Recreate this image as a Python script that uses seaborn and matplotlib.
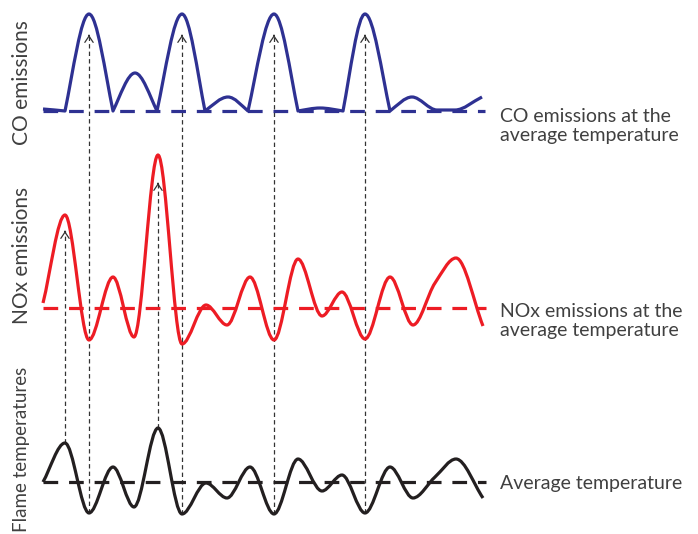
import numpy as np
import pandas as pd
import matplotlib
matplotlib.use("Agg")
import matplotlib.pyplot as plt
from matplotlib.path import Path
from matplotlib.patches import PathPatch
import seaborn as sns

# ---------------- data (read from the reference schematic) ----------------
# shared time axis for NOx and flame temperature (extrema positions)
t_nox_flame = [43, 65, 89, 113, 134, 158, 182, 206, 227, 250, 274, 298, 322, 342, 365, 390, 413, 435, 456, 483]
flame_temp = [0, 39, -31, 15, -25, 54, -32, -1, -16, 15, -32, 23, -9, 7, -31, 15, -16, 5, 23, -16]
nox_emis = [5, 93, -32, 31, -29, 153, -36, 3, -17, 31, -32, 49, -8, 16, -31, 31, -17, 25, 50, -18]

t_co = [43, 65, 89, 113, 135, 157, 182, 205, 228, 248, 274, 298, 320, 343, 365, 390, 412, 437, 455, 482]
co_emis = [2, 0, 97, 0, 38, 0, 97, 0, 14, 0, 97, 0, 3, 0, 97, 0, 14, 1, 1, 14]

# arrows: (flame index, target series, target index)
guides = [(1, "nox", 1), (2, "co", 2), (5, "nox", 5), (6, "co", 6), (10, "co", 10), (14, "co", 14)]

labels_left = ["CO emissions", "NOx emissions", "Flame temperatures"]
labels_right = ["CO emissions at the\naverage temperature",
                "NOx emissions at the\naverage temperature",
                "Average temperature"]

# ---------------- layout / style ----------------
W, H = 698, 534
base = {"co": 423, "nox": 226, "flame": 52}
colors = {"co": "#2e3192", "nox": "#ed1c24", "flame": "#231f20"}
guide_gap = [16, 21, 28, 21, 21, 21]
text_color = "#404040"

sns.set_theme(style="white")
plt.rcParams["font.family"] = ["Lato", "DejaVu Sans"]

fig = plt.figure(figsize=(W / 100, H / 100), dpi=100)
ax = fig.add_axes([0, 0, 1, 1])
ax.set_xlim(0, W)
ax.set_ylim(0, H)
ax.axis("off")


def hermite_path(xs, ys, cusps=(), k=1.2):
    xs = np.asarray(xs, float)
    ys = np.asarray(ys, float)
    n = len(xs)
    h = np.diff(xs)
    d = np.diff(ys) / h
    m = np.zeros(n)
    m[0], m[-1] = d[0], d[-1]
    for i in range(1, n - 1):
        if d[i - 1] * d[i] > 0:
            w1 = 2 * h[i] + h[i - 1]
            w2 = h[i] + 2 * h[i - 1]
            m[i] = (w1 + w2) / (w1 / d[i - 1] + w2 / d[i])
    ml, mr = m.copy(), m.copy()
    for i in cusps:
        ml[i] = k * d[i - 1]
        mr[i] = k * d[i]
    verts = [(xs[0], ys[0])]
    codes = [Path.MOVETO]
    for i in range(n - 1):
        hh = h[i]
        verts += [(xs[i] + hh / 3, ys[i] + mr[i] * hh / 3),
                  (xs[i + 1] - hh / 3, ys[i + 1] - ml[i + 1] * hh / 3),
                  (xs[i + 1], ys[i + 1])]
        codes += [Path.CURVE4] * 3
    return Path(verts, codes)


series = {
    "co": (t_co, co_emis),
    "nox": (t_nox_flame, nox_emis),
    "flame": (t_nox_flame, flame_temp),
}

# vertical dashed guides
rows = []
for gi, (fi, tgt, ti) in enumerate(guides):
    x = t_nox_flame[fi]
    y0 = base["flame"] + flame_temp[fi]
    tx, tv = series[tgt]
    y1 = base[tgt] + tv[ti] - guide_gap[gi]
    rows.append({"g": gi, "x": x, "y": y0})
    rows.append({"g": gi, "x": x, "y": y1})
    ax.annotate("", xy=(x, y1), xytext=(x, y1 - 0.5),
                arrowprops=dict(arrowstyle="->,head_length=0.45,head_width=0.3",
                                color="#333333", lw=0.9, shrinkA=0, shrinkB=0,
                                mutation_scale=10), zorder=2)
gdf = pd.DataFrame(rows)
sns.lineplot(data=gdf, x="x", y="y", units="g", estimator=None, sort=False,
             color="#333333", linewidth=0.9, linestyle=(0, (3.5, 2.5)), ax=ax, zorder=1)

# dashed average baselines
for key, (xs, ys) in series.items():
    bdf = pd.DataFrame({"x": [xs[0], xs[-1] + 3], "y": [base[key], base[key]]})
    sns.lineplot(data=bdf, x="x", y="y", color=colors[key], linewidth=2.3,
                 linestyle=(0, (4.6, 3.4)), ax=ax, zorder=3)

# smooth curves
co_cusps = [1, 3, 5, 7, 9, 11, 13, 15]
for key, (xs, ys) in series.items():
    yy = [base[key] + v for v in ys]
    p = hermite_path(xs, yy, cusps=co_cusps if key == "co" else ())
    ax.add_patch(PathPatch(p, fill=False, edgecolor=colors[key], lw=2.3,
                           capstyle="butt", joinstyle="round", zorder=4))

ax.set_xlim(0, W)
ax.set_ylim(0, H)
ax.set_xlabel("")
ax.set_ylabel("")

# labels
right_y = [408, 213, 51]
for txt, y in zip(labels_right, right_y):
    ax.text(500, y, txt, ha="left", va="center", fontsize=14, color=text_color,
            linespacing=1.2)

left_y = [451, 279]
for txt, y in zip(labels_left[:2], left_y):
    ax.text(22, y, txt, ha="center", va="center", rotation=90, fontsize=15,
            color=text_color)
ax.text(22, 2, labels_left[2], ha="center", va="bottom", rotation=90, fontsize=13.5,
        color=text_color)

fig.savefig("out.png", dpi=100)
